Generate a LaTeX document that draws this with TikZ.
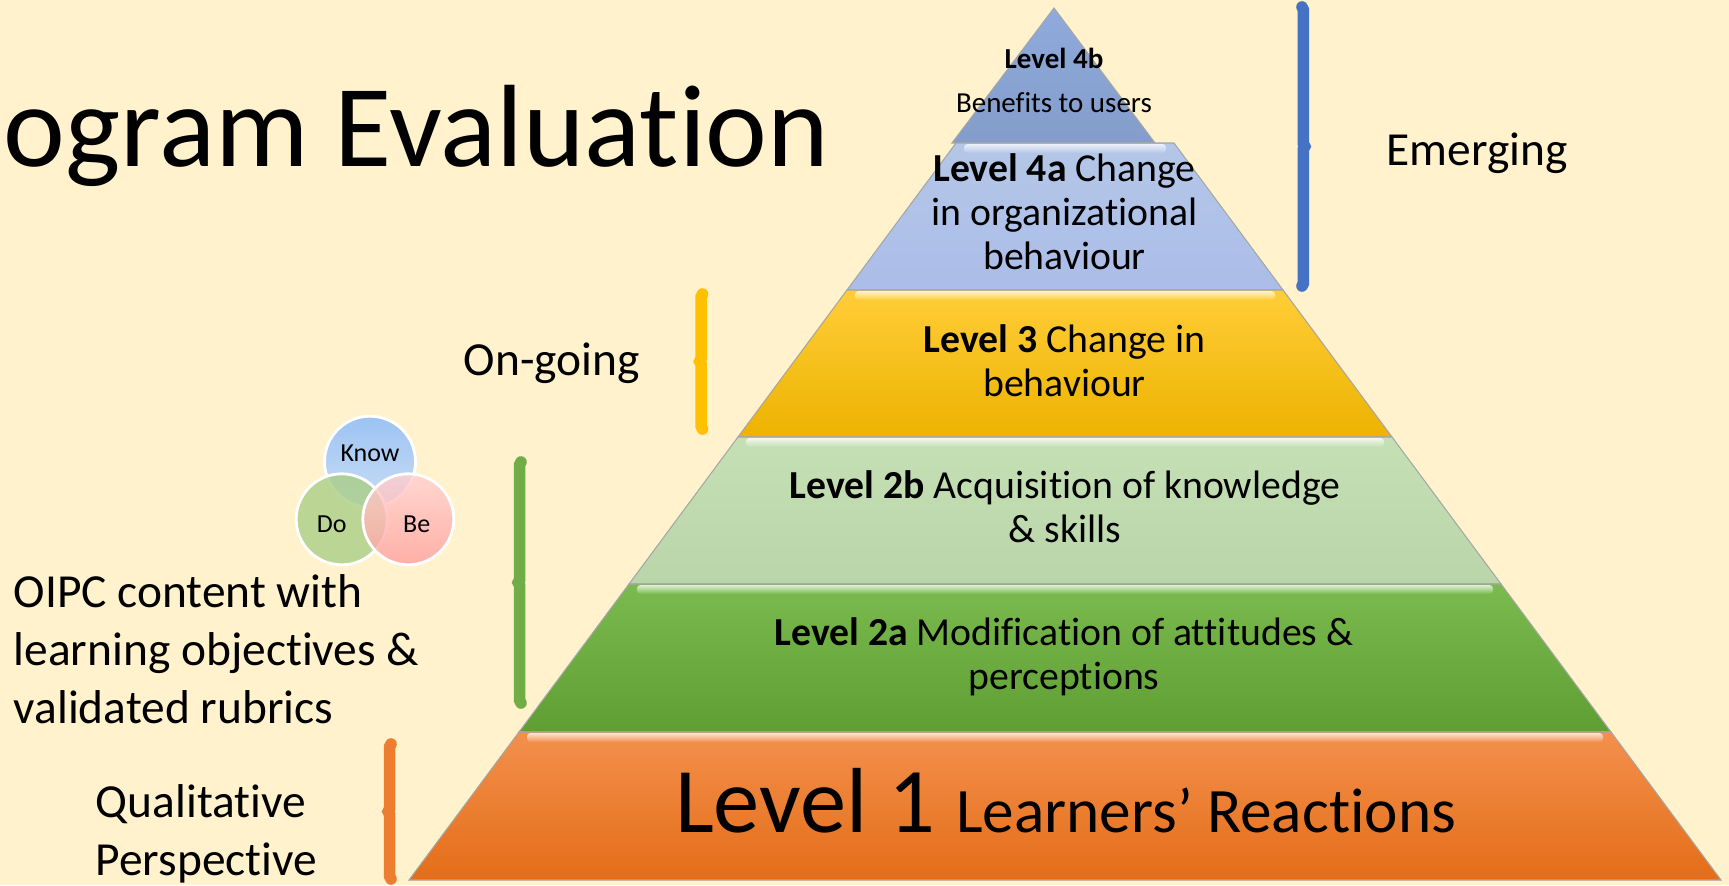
\documentclass[tikz,border=0pt]{standalone}
\usepackage{fontspec}
\setmainfont{Carlito}[Ligatures=NoCommon]
\usetikzlibrary{decorations.pathreplacing}

\definecolor{bg}{HTML}{FFF2CC}
\definecolor{fourB}{HTML}{8FAADC}
\definecolor{fourA}{HTML}{B4C7E7}
\definecolor{goldTop}{HTML}{FFCD38}
\definecolor{goldBot}{HTML}{EDB300}
\definecolor{twoB}{HTML}{C5E0B4}
\definecolor{greenTop}{HTML}{7ABA4F}
\definecolor{greenBot}{HTML}{5E9E33}
\definecolor{orangeTop}{HTML}{F3904C}
\definecolor{orangeBot}{HTML}{E46D18}
\definecolor{braceBlue}{HTML}{4472C4}
\definecolor{braceGold}{HTML}{FFC000}
\definecolor{braceGreen}{HTML}{70AD47}
\definecolor{braceOrange}{HTML}{ED7D31}
\definecolor{knowTop}{HTML}{9CC3F3}
\definecolor{knowBot}{HTML}{CADDF5}
\definecolor{doGreen}{HTML}{A9CE86}
\definecolor{beTop}{HTML}{FFD0D0}
\definecolor{beBot}{HTML}{FF9F9F}

\tikzset{
    titletext/.style={font=\fontsize{33.3}{40}\selectfont,anchor=base west,inner sep=0pt},
    tier/.style={draw=black!35,line width=0.3pt},
    bevel/.style={top color=white!75!#1,bottom color=#1,rounded corners=1pt},
    tiertext/.style={font=\fontsize{11.3}{12.4}\selectfont,align=center,anchor=base,inner sep=0pt},
    sidetext/.style={font=\fontsize{13.5}{16.5}\selectfont,align=left,anchor=base west,inner sep=0pt},
    bracebar/.style={line width=3.3pt,line cap=round,decorate,decoration={brace,amplitude=0.8pt}},
    venn/.style={draw=white,line width=0.8pt},
    venntext/.style={font=\fontsize{7.4}{9}\selectfont,inner sep=0pt}
}

\begin{document}
\begin{tikzpicture}
    \useasboundingbox (0,0) rectangle (17.29,8.85);
    \clip (0,0) rectangle (17.29,8.85);
    \fill[bg] (0,0) rectangle (17.29,8.85);

    % title, cut at the left edge
    \node[titletext] (title) at (0.03,7.19) {ogram Evaluation};

    % pyramid tiers
    \shadedraw[tier,top color=fourB,bottom color=fourB!92!black] (10.54,8.77) -- (9.52,7.42) -- (11.55,7.42) -- cycle;
    \shadedraw[tier,top color=fourA,bottom color=fourA!95!blue] (9.56,7.42) -- (11.74,7.42) -- (12.83,5.95) -- (8.47,5.95) -- cycle;
    \shadedraw[tier,top color=goldTop,bottom color=goldBot] (8.47,5.95) -- (12.83,5.95) -- (13.92,4.48) -- (7.38,4.48) -- cycle;
    \shadedraw[tier,top color=twoB,bottom color=twoB!95!black] (7.38,4.48) -- (13.92,4.48) -- (15.01,3.01) -- (6.29,3.01) -- cycle;
    \shadedraw[tier,top color=greenTop,bottom color=greenBot] (6.29,3.01) -- (15.01,3.01) -- (16.11,1.53) -- (5.19,1.53) -- cycle;
    \shadedraw[tier,top color=orangeTop,bottom color=orangeBot] (5.19,1.53) -- (16.11,1.53) -- (17.21,0.05) -- (4.09,0.05) -- cycle;

    % bevel on top of each tier
    \shade[bevel=fourA] (9.64,7.41) rectangle (11.66,7.32);
    \shade[bevel=goldTop] (8.55,5.94) rectangle (12.75,5.85);
    \shade[bevel=twoB] (7.46,4.47) rectangle (13.84,4.38);
    \shade[bevel=greenTop] (6.37,3.00) rectangle (14.93,2.91);
    \shade[bevel=orangeTop] (5.27,1.52) rectangle (16.03,1.43);

    % tier labels (base = last line)
    \node[tiertext,font=\fontsize{8.25}{12.5}\selectfont] (lvl4b) at (10.54,7.73) {\textbf{Level 4b}\\Benefits to users};
    \node[tiertext] (lvl4a) at (10.645,6.16) {\textbf{Level 4a} Change\\in organizational\\behaviour};
    \node[tiertext] (lvl3) at (10.645,4.89) {\textbf{Level 3} Change in\\behaviour};
    \node[tiertext] (lvl2b) at (10.65,3.425) {\textbf{Level 2b} Acquisition of knowledge\\\& skills};
    \node[tiertext] (lvl2a) at (10.64,1.96) {\textbf{Level 2a} Modification of attitudes \&\\perceptions};
    \node[tiertext] (lvl1) at (10.655,0.525) {\fontsize{26.3}{30}\selectfont Level 1 \fontsize{18}{22}\selectfont Learners’ Reactions};

    % braces
    \draw[bracebar,braceBlue] (13.02,8.78) -- (13.02,5.99);
    \draw[bracebar,braceGold] (7.025,4.56) -- (7.025,5.91);
    \draw[bracebar,braceGreen] (5.21,1.82) -- (5.21,4.23);
    \draw[bracebar,braceOrange] (3.91,0.06) -- (3.91,1.41);

    % side labels
    \node[sidetext] (emerging) at (13.86,7.20) {Emerging};
    \node[sidetext] (ongoing) at (4.63,5.10) {On-going};
    \node[sidetext] (oipc) at (0.13,1.62) {OIPC content with\\learning objectives \&\\validated rubrics};
    \node[sidetext] (qualit) at (0.95,0.10) {Qualitative\\Perspective};

    % know / do / be
    \shadedraw[venn,top color=knowTop,bottom color=knowBot] (3.70,4.233) circle (0.455);
    \filldraw[venn,fill=doGreen,fill opacity=0.8] (3.417,3.657) circle (0.455);
    \shadedraw[venn,top color=beTop,bottom color=beBot,fill opacity=0.8] (4.083,3.657) circle (0.455);
    \node[venntext] (know) at (3.70,4.32) {Know};
    \node[venntext] (do) at (3.317,3.61) {Do};
    \node[venntext] (be) at (4.167,3.61) {Be};
\end{tikzpicture}
\end{document}
